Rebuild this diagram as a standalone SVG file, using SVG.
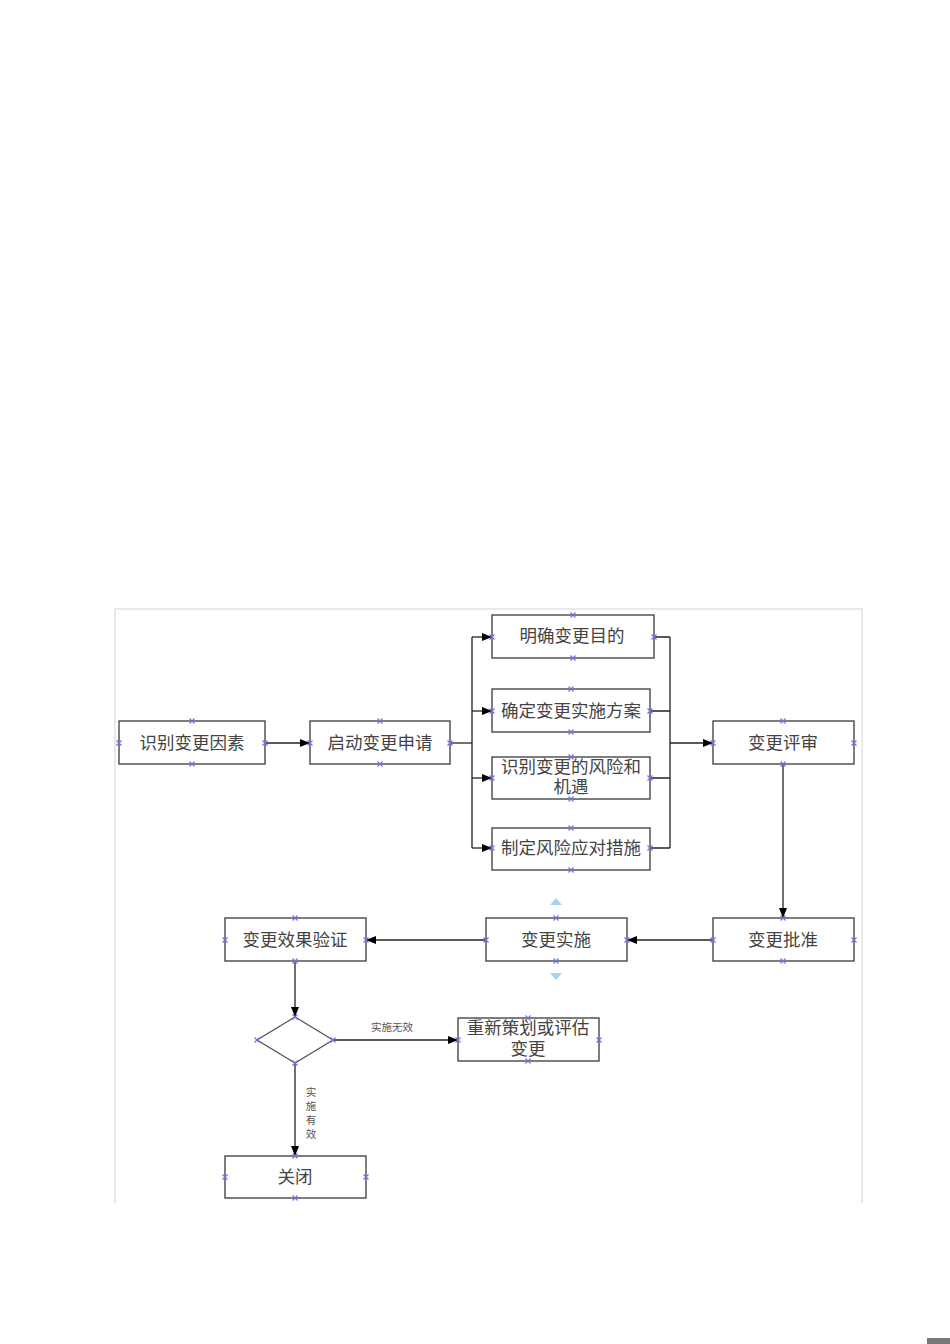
<svg xmlns="http://www.w3.org/2000/svg" width="950" height="1344" viewBox="0 0 950 1344">
<style>
.box{fill:#fff;stroke:#3a3a3a;stroke-width:1.3}
.t{font-family:"Noto Sans CJK SC","Noto Sans",sans-serif;font-size:17.5px;fill:#444;text-anchor:middle}
.s{font-family:"Noto Sans CJK SC","Noto Sans",sans-serif;font-size:10.5px;fill:#555;text-anchor:middle}
.c{fill:none;stroke:#222;stroke-width:1.3}
.x{stroke:#6f6fe6;stroke-width:1.1;fill:none}
</style>
<defs>
<marker id="ah" markerWidth="10" markerHeight="8" refX="10" refY="4" orient="auto" markerUnits="userSpaceOnUse">
<path d="M0,0 L10,4 L0,8 Z" fill="#000"/>
</marker>
<path id="cx" class="x" d="M-2.5,-2.5 L2.5,2.5 M-2.5,2.5 L2.5,-2.5"/>
</defs>
<rect x="0" y="0" width="950" height="1344" fill="#fff"/>
<path d="M115,1203 V609 H862 V1203" fill="none" stroke="#e2e2e2" stroke-width="1.5"/>
<rect x="927" y="1338" width="23" height="6" fill="#777"/>

<g id="connectors">
<path class="c" d="M265,743 H310" marker-end="url(#ah)"/>
<path class="c" d="M450,743 H472"/>
<path class="c" d="M472,637 V848"/>
<path class="c" d="M472,637 H492" marker-end="url(#ah)"/>
<path class="c" d="M472,711 H492" marker-end="url(#ah)"/>
<path class="c" d="M472,778 H492" marker-end="url(#ah)"/>
<path class="c" d="M472,848 H492" marker-end="url(#ah)"/>
<path class="c" d="M654,637 H670 M650,711 H670 M650,778 H670 M650,848 H670 M670,637 V848"/>
<path class="c" d="M670,743 H713" marker-end="url(#ah)"/>
<path class="c" d="M783,764 V918" marker-end="url(#ah)"/>
<path class="c" d="M713,940 H627" marker-end="url(#ah)"/>
<path class="c" d="M486,940 H366" marker-end="url(#ah)"/>
<path class="c" d="M295,961 V1017" marker-end="url(#ah)"/>
<path class="c" d="M333,1040 H458" marker-end="url(#ah)"/>
<path class="c" d="M295,1063 V1156" marker-end="url(#ah)"/>
<text class="s" x="392" y="1031">实施无效</text>
<text class="s" x="311" y="1096">实<tspan x="311" dy="14">施</tspan><tspan x="311" dy="14">有</tspan><tspan x="311" dy="14">效</tspan></text>
</g>

<g id="n1"><rect class="box" x="119" y="721" width="146" height="43"/><text class="t" x="192" y="749">识别变更因素</text>
<use href="#cx" x="192" y="721"/><use href="#cx" x="192" y="764"/><use href="#cx" x="119" y="743"/><use href="#cx" x="265" y="743"/></g>
<g id="n2"><rect class="box" x="310" y="721" width="140" height="43"/><text class="t" x="380" y="749">启动变更申请</text>
<use href="#cx" x="380" y="721"/><use href="#cx" x="380" y="764"/><use href="#cx" x="310" y="743"/><use href="#cx" x="450" y="743"/></g>
<g id="n3"><rect class="box" x="492" y="615" width="162" height="43"/><text class="t" x="572" y="642">明确变更目的</text>
<use href="#cx" x="573" y="615"/><use href="#cx" x="573" y="658"/><use href="#cx" x="492" y="637"/><use href="#cx" x="654" y="637"/></g>
<g id="n4"><rect class="box" x="492" y="689" width="158" height="43"/><text class="t" x="571" y="717">确定变更实施方案</text>
<use href="#cx" x="571" y="689"/><use href="#cx" x="571" y="732"/><use href="#cx" x="492" y="711"/><use href="#cx" x="650" y="711"/></g>
<g id="n5"><rect class="box" x="492" y="757" width="158" height="42"/><text class="t" x="571" y="773">识别变更的风险和<tspan x="571" dy="20">机遇</tspan></text>
<use href="#cx" x="571" y="757"/><use href="#cx" x="571" y="799"/><use href="#cx" x="492" y="778"/><use href="#cx" x="650" y="778"/></g>
<g id="n6"><rect class="box" x="492" y="828" width="158" height="42"/><text class="t" x="571" y="854">制定风险应对措施</text>
<use href="#cx" x="571" y="828"/><use href="#cx" x="571" y="870"/><use href="#cx" x="492" y="848"/><use href="#cx" x="650" y="848"/></g>
<g id="n7"><rect class="box" x="713" y="721" width="141" height="43"/><text class="t" x="783" y="749">变更评审</text>
<use href="#cx" x="783" y="721"/><use href="#cx" x="783" y="764"/><use href="#cx" x="713" y="743"/><use href="#cx" x="854" y="743"/></g>
<g id="n8"><rect class="box" x="713" y="918" width="141" height="43"/><text class="t" x="783" y="946">变更批准</text>
<use href="#cx" x="783" y="918"/><use href="#cx" x="783" y="961"/><use href="#cx" x="713" y="940"/><use href="#cx" x="854" y="940"/></g>
<g id="n9"><rect class="box" x="486" y="918" width="141" height="43"/><text class="t" x="556" y="946">变更实施</text>
<use href="#cx" x="556" y="918"/><use href="#cx" x="556" y="961"/><use href="#cx" x="486" y="940"/><use href="#cx" x="627" y="940"/>
<path d="M550,905 L556,898 L562,905 Z" fill="#a9d2f3"/><path d="M550,973 L556,980 L562,973 Z" fill="#a9d2f3"/></g>
<g id="n10"><rect class="box" x="225" y="918" width="141" height="43"/><text class="t" x="295" y="946">变更效果验证</text>
<use href="#cx" x="295" y="918"/><use href="#cx" x="295" y="961"/><use href="#cx" x="225" y="940"/><use href="#cx" x="366" y="940"/></g>
<g id="n11"><path d="M295,1017 L333,1040 L295,1063 L257,1040 Z" fill="#fff" stroke="#555" stroke-width="1.3"/>
<use href="#cx" x="295" y="1017"/><use href="#cx" x="295" y="1063"/><use href="#cx" x="257" y="1040"/><use href="#cx" x="333" y="1040"/></g>
<g id="n12"><rect class="box" x="458" y="1018" width="141" height="43"/><text class="t" x="528" y="1034">重新策划或评估<tspan x="528" dy="21">变更</tspan></text>
<use href="#cx" x="528" y="1018"/><use href="#cx" x="528" y="1061"/><use href="#cx" x="458" y="1040"/><use href="#cx" x="599" y="1040"/></g>
<g id="n13"><rect class="box" x="225" y="1156" width="141" height="42"/><text class="t" x="295" y="1183">关闭</text>
<use href="#cx" x="295" y="1156"/><use href="#cx" x="295" y="1198"/><use href="#cx" x="225" y="1177"/><use href="#cx" x="366" y="1177"/></g>
</svg>
